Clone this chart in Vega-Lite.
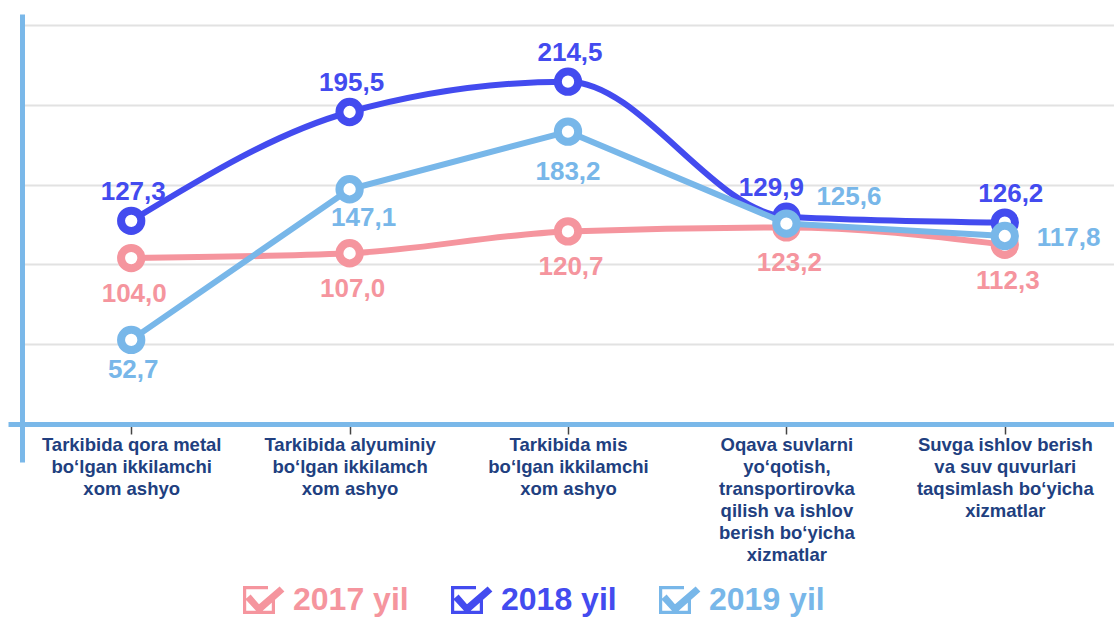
{
  "$schema": "https://vega.github.io/schema/vega-lite/v6.json",
  "width": 1092,
  "height": 448,
  "autosize": {"type": "none"},
  "padding": {"left": 22, "top": 14, "right": 0, "bottom": 157},
  "background": "white",
  "config": {
    "view": {"stroke": null},
    "font": "Liberation Sans",
    "locale": {"number": {"decimal": ",", "thousands": " ", "grouping": [3], "currency": ["", ""]}}
  },
  "data": {
    "values": [
      {"cat": "Tarkibida qora metal|bo‘lgan ikkilamchi|xom ashyo", "i": 1, "year": "2017", "value": 104.0},
      {"cat": "Tarkibida alyuminiy|bo‘lgan ikkilamch|xom ashyo", "i": 2, "year": "2017", "value": 107.0},
      {"cat": "Tarkibida mis|bo‘lgan ikkilamchi|xom ashyo", "i": 3, "year": "2017", "value": 120.7},
      {"cat": "Oqava suvlarni|yo‘qotish,|transportirovka|qilish va ishlov|berish bo‘yicha|xizmatlar", "i": 4, "year": "2017", "value": 123.2},
      {"cat": "Suvga ishlov berish|va suv quvurlari|taqsimlash bo‘yicha|xizmatlar", "i": 5, "year": "2017", "value": 112.3},
      {"cat": "Tarkibida qora metal|bo‘lgan ikkilamchi|xom ashyo", "i": 1, "year": "2018", "value": 127.3},
      {"cat": "Tarkibida alyuminiy|bo‘lgan ikkilamch|xom ashyo", "i": 2, "year": "2018", "value": 195.5},
      {"cat": "Tarkibida mis|bo‘lgan ikkilamchi|xom ashyo", "i": 3, "year": "2018", "value": 214.5},
      {"cat": "Oqava suvlarni|yo‘qotish,|transportirovka|qilish va ishlov|berish bo‘yicha|xizmatlar", "i": 4, "year": "2018", "value": 129.9},
      {"cat": "Suvga ishlov berish|va suv quvurlari|taqsimlash bo‘yicha|xizmatlar", "i": 5, "year": "2018", "value": 126.2},
      {"cat": "Tarkibida qora metal|bo‘lgan ikkilamchi|xom ashyo", "i": 1, "year": "2019", "value": 52.7},
      {"cat": "Tarkibida alyuminiy|bo‘lgan ikkilamch|xom ashyo", "i": 2, "year": "2019", "value": 147.1},
      {"cat": "Tarkibida mis|bo‘lgan ikkilamchi|xom ashyo", "i": 3, "year": "2019", "value": 183.2},
      {"cat": "Oqava suvlarni|yo‘qotish,|transportirovka|qilish va ishlov|berish bo‘yicha|xizmatlar", "i": 4, "year": "2019", "value": 125.6},
      {"cat": "Suvga ishlov berish|va suv quvurlari|taqsimlash bo‘yicha|xizmatlar", "i": 5, "year": "2019", "value": 117.8}
    ]
  },
  "encoding": {
    "x": {
      "field": "cat",
      "type": "nominal",
      "sort": {"field": "i", "op": "min"},
      "scale": {"type": "point", "padding": 0.5},
      "axis": {
        "title": null,
        "offset": -38,
        "domainColor": "#7ab8e9",
        "domainWidth": 5,
        "tickColor": "#444444",
        "tickWidth": 1.5,
        "tickSize": 10,
        "labelPadding": 1,
        "labelAngle": 0,
        "labelFont": "Liberation Sans",
        "labelFontSize": 18.5,
        "labelFontWeight": "bold",
        "labelColor": "#213f80",
        "labelLineHeight": 22,
        "labelLimit": 400,
        "labelBaseline": "top",
        "labelExpr": "split(datum.label, '|')"
      }
    },
    "y": {
      "field": "value",
      "type": "quantitative",
      "scale": {"domain": [-23.8, 256.9], "nice": false, "zero": false},
      "axis": {
        "title": null,
        "values": [0, 50, 100, 150, 200, 250],
        "labels": false,
        "domainColor": "#7ab8e9",
        "domainWidth": 5,
        "tickSize": 14,
        "tickWidth": 5,
        "tickColor": {"condition": {"test": "datum.value === 0", "value": "#7ab8e9"}, "value": "transparent"},
        "grid": true,
        "gridWidth": 2,
        "gridColor": {"condition": {"test": "datum.value === 0", "value": "transparent"}, "value": "#e2e2e2"}
      }
    },
    "color": {
      "field": "year",
      "type": "nominal",
      "scale": {"domain": ["2017", "2018", "2019"], "range": ["#f5959e", "#434bef", "#78b7e9"]},
      "legend": {
        "orient": "none",
        "legendX": 221,
        "legendY": 566,
        "direction": "horizontal",
        "title": null,
        "padding": 0,
        "symbolType": "M0.25,-0.7L-1,-0.7L-1,0.7L0.6,0.7L0.6,-0.05L0.44,-0.05L0.44,0.54L-0.84,0.54L-0.84,-0.54L0.25,-0.54ZM-0.88,-0.04L-0.2,0.7L1.07,-0.42L0.83,-0.68L-0.2,0.21L-0.62,-0.27Z",
        "symbolSize": 1600,
        "symbolStrokeWidth": 0,
        "labelFont": "Liberation Sans",
        "labelFontSize": 32,
        "labelFontWeight": "bold",
        "labelOffset": 10,
        "columnPadding": 42,
        "labelExpr": "datum.label + ' yil'",
        "encode": {
          "symbols": {"update": {"fill": {"scale": "color", "field": "value"}, "stroke": {"value": "transparent"}, "fillOpacity": {"value": 1}, "opacity": {"value": 1}}},
          "labels": {"update": {"fill": {"scale": "color", "field": "value"}}}
        }
      }
    }
  },
  "layer": [
    {"transform": [{"filter": "datum.year === '2017'"}], "mark": {"type": "line", "interpolate": "monotone", "strokeWidth": 6, "strokeCap": "round"}},
    {"transform": [{"filter": "datum.year === '2017'"}], "mark": {"type": "point", "shape": "circle", "filled": false, "fill": "white", "fillOpacity": 1, "opacity": 1, "size": 412, "strokeWidth": 8}},
    {"transform": [{"filter": "datum.year === '2018'"}], "mark": {"type": "line", "interpolate": "monotone", "strokeWidth": 6, "strokeCap": "round"}},
    {"transform": [{"filter": "datum.year === '2018'"}], "mark": {"type": "point", "shape": "circle", "filled": false, "fill": "white", "fillOpacity": 1, "opacity": 1, "size": 412, "strokeWidth": 8}},
    {"transform": [{"filter": "datum.year === '2019'"}], "mark": {"type": "line", "interpolate": "linear", "strokeWidth": 6, "strokeCap": "round"}},
    {"transform": [{"filter": "datum.year === '2019'"}], "mark": {"type": "point", "shape": "circle", "filled": false, "fill": "white", "fillOpacity": 1, "opacity": 1, "size": 412, "strokeWidth": 8}},
    {"transform": [{"filter": "datum.year === '2018' && datum.i <= 3"}], "mark": {"type": "text", "fontSize": 26, "fontWeight": "bold", "baseline": "alphabetic", "dy": -21, "dx": 2, "font": "Liberation Sans"}, "encoding": {"text": {"field": "value", "type": "quantitative", "format": ".1f"}}},
    {"transform": [{"filter": "datum.year === '2018' && datum.i === 4"}], "mark": {"type": "text", "fontSize": 26, "fontWeight": "bold", "baseline": "alphabetic", "dy": -21, "dx": -15, "font": "Liberation Sans"}, "encoding": {"text": {"field": "value", "type": "quantitative", "format": ".1f"}}},
    {"transform": [{"filter": "datum.year === '2018' && datum.i === 5"}], "mark": {"type": "text", "fontSize": 26, "fontWeight": "bold", "baseline": "alphabetic", "dy": -21, "dx": 6, "font": "Liberation Sans"}, "encoding": {"text": {"field": "value", "type": "quantitative", "format": ".1f"}}},
    {"transform": [{"filter": "datum.year === '2017'"}], "mark": {"type": "text", "fontSize": 26, "fontWeight": "bold", "baseline": "top", "dy": 23, "dx": 3, "font": "Liberation Sans"}, "encoding": {"text": {"field": "value", "type": "quantitative", "format": ".1f"}}},
    {"transform": [{"filter": "datum.year === '2019' && datum.i === 1"}], "mark": {"type": "text", "fontSize": 26, "fontWeight": "bold", "baseline": "top", "dy": 17, "dx": 2, "font": "Liberation Sans"}, "encoding": {"text": {"field": "value", "type": "quantitative", "format": ".1f"}}},
    {"transform": [{"filter": "datum.year === '2019' && datum.i === 2"}], "mark": {"type": "text", "fontSize": 26, "fontWeight": "bold", "baseline": "top", "dy": 16, "dx": 14, "font": "Liberation Sans"}, "encoding": {"text": {"field": "value", "type": "quantitative", "format": ".1f"}}},
    {"transform": [{"filter": "datum.year === '2019' && datum.i === 3"}], "mark": {"type": "text", "fontSize": 26, "fontWeight": "bold", "baseline": "top", "dy": 27, "font": "Liberation Sans"}, "encoding": {"text": {"field": "value", "type": "quantitative", "format": ".1f"}}},
    {"transform": [{"filter": "datum.year === '2019' && datum.i === 4"}], "mark": {"type": "text", "fontSize": 26, "fontWeight": "bold", "baseline": "middle", "align": "left", "dx": 30, "dy": -27, "font": "Liberation Sans"}, "encoding": {"text": {"field": "value", "type": "quantitative", "format": ".1f"}}},
    {"transform": [{"filter": "datum.year === '2019' && datum.i === 5"}], "mark": {"type": "text", "fontSize": 26, "fontWeight": "bold", "baseline": "middle", "align": "left", "dx": 32, "dy": 2, "font": "Liberation Sans"}, "encoding": {"text": {"field": "value", "type": "quantitative", "format": ".1f"}}}
  ]
}
